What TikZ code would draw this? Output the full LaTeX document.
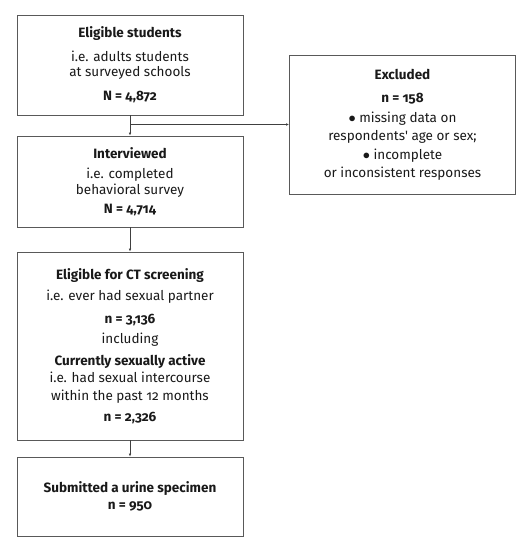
\documentclass[tikz,border=0pt]{standalone}
\usepackage{fontspec}
\setmainfont{Fira Sans}[Numbers=OldStyle]
\usetikzlibrary{arrows.meta}

\tikzset{
  stagebox/.style={draw=black!65, line width=0.8pt, align=center, text=black!90,
    minimum width=226pt, inner sep=0pt, font=\fontsize{13.5}{15}\selectfont},
  flow/.style={draw=black!75, line width=0.6pt, -{Latex[length=3pt,width=2.6pt]}}
}

\begin{document}
\begin{tikzpicture}[x=1pt,y=-1pt]
  \useasboundingbox (0,0) rectangle (527,549);
  % main column
  \node[stagebox, minimum height=100pt] (elig) at (130,65)
    {\textbf{Eligible students}\\[9pt] i.e. adults students\\ at surveyed schools\\[9pt] \textbf{N = 4,872}};
  \node[stagebox, minimum height=91pt] (interv) at (130,181.5)
    {\textbf{Interviewed}\\[5pt] i.e. completed\\[1pt] behavioral survey\\[4pt] \textbf{N = 4,714}};
  \node[stagebox, minimum height=188pt] (screen) at (130,346)
    {\textbf{Eligible for CT screening}\\[6pt] i.e. ever had sexual partner\\[8pt] \textbf{n = 3,136}\\[5pt] including\\[7pt]
     \textbf{Currently sexually active}\\[2pt] i.e. had sexual intercourse\\[3pt] within the past 12 months\\[6pt] \textbf{n = 2,326}};
  \node[stagebox, minimum height=79pt] (urine) at (130,496.5)
    {\textbf{Submitted a urine specimen}\\[2pt] \textbf{n = 950}};
  % side box
  \node[stagebox, minimum height=139pt] (excl) at (402.5,124.5)
    {\textbf{Excluded}\\[8pt] \textbf{n = 158}\\[5pt] $\bullet$ missing data on\\[3pt] respondents\textquotesingle\ age or sex;\\[4pt]
     $\bullet$ incomplete\\[3pt] or inconsistent responses};

  \coordinate (split) at (elig.south |- excl.west);
  \draw[flow] (elig) -- (interv);
  \draw[flow] (split) -- (excl);
  \draw[flow] (interv) -- (screen);
  \draw[flow] (screen) -- (urine);
\end{tikzpicture}
\end{document}
